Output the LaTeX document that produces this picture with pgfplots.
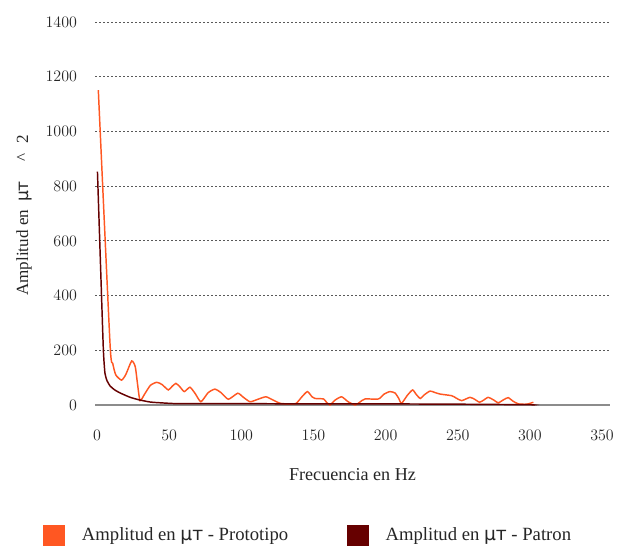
\documentclass[border=0pt]{standalone}
\usepackage{pgfplots}
\pgfplotsset{compat=1.18}
\usepackage{fontspec}
\setmainfont{Liberation Serif}
\newfontfamily\mufont{DejaVu Sans}
\definecolor{proto}{HTML}{FF5722}
\definecolor{patron}{HTML}{660000}
\newcommand{\muT}{{\mufont μт}}
\begin{document}
\begin{tikzpicture}[x=1pt,y=1pt]
\useasboundingbox (0,0) rectangle (462.75,409.5);
\begin{axis}[
  at={(71.25pt,105.75pt)}, anchor=south west,
  scale only axis, width=386.25pt, height=287.25pt,
  xmin=-1.4, xmax=355.5, ymin=0, ymax=1400,
  separate axis lines,
  axis x line*=bottom, axis y line*=left,
  y axis line style={draw=none},
  x axis line style={draw=black!45, line width=1.1pt, -},
  xtick={0,50,...,350}, ytick={0,200,...,1400},
  major tick length=0pt,
  ymajorgrids,
  grid style={dash pattern=on 1.5pt off 1.5pt, color=black!65, line width=0.6pt},
  tick label style={font=\fontsize{12}{14}\selectfont, color=black!85},
  /pgf/number format/1000 sep={},
  xticklabel style={yshift=-15pt},
  yticklabel style={xshift=-10pt},
  xlabel={Frecuencia en Hz},
  ylabel={Amplitud en\hspace{6pt}\muT\hspace{15pt}\textasciicircum\hspace{7pt}2},
  label style={color=black!85},
  xlabel style={font=\fontsize{13.6}{16}\selectfont, at={(axis description cs:0.5,-0.181)}, anchor=center},
  ylabel style={font=\fontsize{12.8}{15}\selectfont, at={(axis description cs:-0.1379,0.495)}, anchor=center},
  legend columns=2,
  legend style={at={(axis description cs:-0.101,-0.34)}, anchor=west, draw=none,
    inner sep=0pt, font=\fontsize{14}{16}\selectfont, text=black!85,
    /tikz/every odd column/.append style={column sep=10.5pt},
    /tikz/every even column/.append style={column sep=42pt}},
  legend cell align=left,
  legend image code/.code={\fill[#1, draw=none] (0pt,-8pt) rectangle (16.5pt,8pt);},
]
\addplot[color=proto, line width=1.1pt, smooth, tension=0.35] coordinates {
(0.9,1151) (9,225) (10.9,152) (13,110) (17,91) (20,112) (24,161) (26.5,140) (28,80) (29.8,16)
(33,40) (37,72) (41.4,83) (45,75) (49.4,55) (52,68) (54.7,79) (57.5,66) (60.5,49) (64.4,65)
(68,42) (72,12) (77,45) (81.7,58) (86,45) (91,21) (97.5,43) (101,30) (106,12) (111,20)
(117,30) (122,18) (127,6) (133,4) (138,6) (142,30) (145.8,49) (149,30) (151,24) (157,22)
(159,10) (161.5,0) (165,18) (169.5,30) (174,12) (179,0) (182,10) (185.7,22) (195,22)
(199,40) (203,49) (206.5,44) (209,25) (211,6) (215,35) (218.7,55) (221,40) (224,24)
(227,38) (230.8,51) (234,46) (237.7,40) (245.8,34) (249,25) (252.7,16) (258.5,28)
(262,20) (265,10) (268,18) (271,28) (275,18) (278,8) (282,20) (285,27) (288,15)
(292,4) (297.8,3) (302.4,10)
};
\addlegendentry{Amplitud en \muT\ - Prototipo}
\addplot[color=patron, line width=1.1pt, smooth, tension=0.3] coordinates {
(0.3,853) (2.5,500) (4.4,201) (5.5,116) (7,88) (9,70) (12,56) (16,44) (23,28)
(29.8,18) (36.7,11) (41,9) (55,5) (80,5) (100,5) (150,4) (200,4) (250,3)
(300,1) (302,0)
};
\addlegendentry{Amplitud en \muT\ - Patron}
\end{axis}
\end{tikzpicture}
\end{document}
